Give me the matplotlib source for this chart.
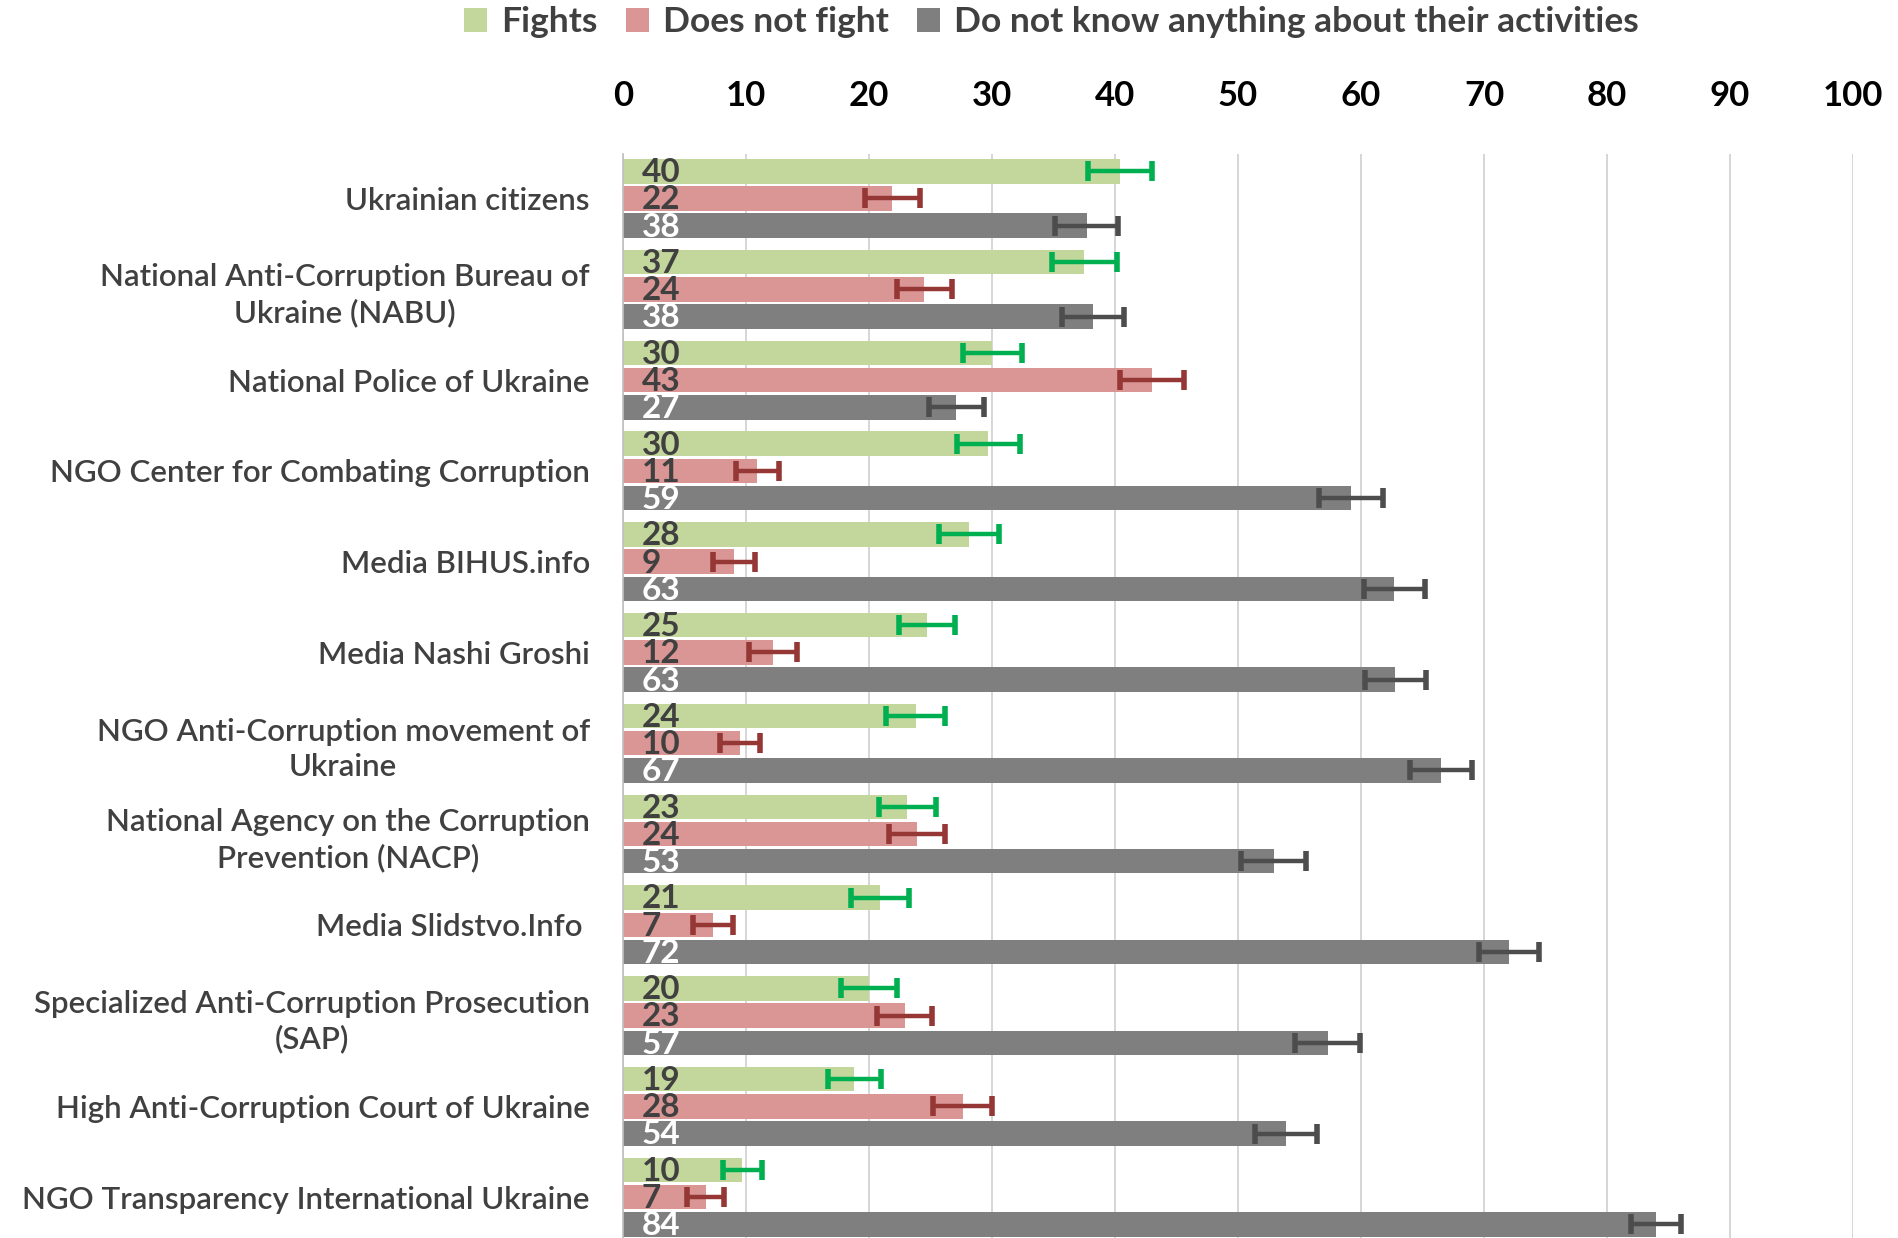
import matplotlib.pyplot as plt
import numpy as np
from matplotlib.patches import Patch

plt.rcParams['font.family'] = ['Lato', 'DejaVu Sans']

categories = [
    "Ukrainian citizens",
    "National Anti-Corruption Bureau of\nUkraine (NABU)",
    "National Police of Ukraine",
    "NGO Center for Combating Corruption",
    "Media BIHUS.info",
    "Media Nashi Groshi",
    "NGO Anti-Corruption movement of\nUkraine",
    "National Agency on the Corruption\nPrevention (NACP)",
    "Media Slidstvo.Info ",
    "Specialized Anti-Corruption Prosecution\n(SAP)",
    "High Anti-Corruption Court of Ukraine",
    "NGO Transparency International Ukraine",
]
series_names = ["Fights", "Does not fight", "Do not know anything about their activities"]

fights = [40.4, 37.5, 30.0, 29.7, 28.1, 24.7, 23.8, 23.1, 20.9, 20.0, 18.8, 9.7]
fights_err = [2.6, 2.65, 2.4, 2.55, 2.45, 2.25, 2.4, 2.3, 2.35, 2.25, 2.15, 1.6]
fights_labels = [40, 37, 30, 30, 28, 25, 24, 23, 21, 20, 19, 10]

not_fight = [21.9, 24.5, 43.0, 10.9, 9.0, 12.2, 9.5, 23.9, 7.3, 22.9, 27.6, 6.7]
not_fight_err = [2.2, 2.25, 2.6, 1.75, 1.7, 1.95, 1.65, 2.3, 1.6, 2.25, 2.4, 1.5]
not_fight_labels = [22, 24, 43, 11, 9, 12, 10, 24, 7, 23, 28, 7]

dont_know = [37.7, 38.2, 27.1, 59.2, 62.7, 62.8, 66.5, 52.9, 72.0, 57.3, 53.9, 84.0]
dont_know_err = [2.55, 2.5, 2.25, 2.6, 2.5, 2.5, 2.5, 2.65, 2.45, 2.65, 2.55, 2.05]
dont_know_labels = [38, 38, 27, 59, 63, 63, 67, 53, 72, 57, 54, 84]

bar_colors = ['#C3D69B', '#D99694', '#7F7F7F']
err_colors = ['#00B050', '#953735', '#4D4D4D']
text_colors = ['#404040', '#404040', 'white']

fig = plt.figure(figsize=(18.98, 12.38), dpi=100)
ax = fig.add_axes([0.3283, 0.0, 0.648, 0.8756])

y = np.arange(len(categories))
offsets = [-0.3, 0.0, 0.3]
bar_h = 0.27

series = [
    (fights, fights_err, fights_labels),
    (not_fight, not_fight_err, not_fight_labels),
    (dont_know, dont_know_err, dont_know_labels),
]

for k, (vals, errs, labels) in enumerate(series):
    yy = y + offsets[k]
    ax.barh(yy, vals, height=bar_h, color=bar_colors[k], zorder=2)
    ax.errorbar(vals, yy, xerr=errs, fmt='none', ecolor=err_colors[k],
                elinewidth=3.2, capsize=7, capthick=4, zorder=3)
    # value labels sit inside the bar, near the left end
    for yi, lab in zip(yy, labels):
        ax.text(1.5, yi + bar_h / 2 - 0.015, str(lab), ha='left', va='baseline',
                fontsize=24, fontweight='bold', color=text_colors[k], zorder=4)

ax.set_xlim(0, 100)
ax.set_ylim(11.45, -0.49)
ax.set_xticks(np.arange(0, 101, 10))
ax.xaxis.tick_top()
ax.tick_params(axis='x', length=0, pad=30, labelsize=25)
for lbl in ax.get_xticklabels():
    lbl.set_fontweight('bold')
    lbl.set_color('black')

ax.set_yticks(y)
ax.set_yticklabels(categories, fontsize=22.5, color='#404040', fontweight='semibold')
ax.tick_params(axis='y', length=0, pad=24)
for lbl in ax.get_yticklabels():
    lbl.set_multialignment('center')
    lbl.set_linespacing(1.3)

ax.xaxis.grid(True, color='#D0D0D0', linewidth=1.2)
ax.set_axisbelow(True)
for side in ['top', 'right', 'bottom']:
    ax.spines[side].set_visible(False)
ax.spines['left'].set_color('#BFBFBF')
ax.spines['left'].set_linewidth(1.2)

handles = [Patch(facecolor=c) for c in bar_colors]
fig.legend(handles, series_names, loc='center', bbox_to_anchor=(0.554, 0.982),
           ncol=3, frameon=False, handlelength=0.65, handleheight=0.65,
           handletextpad=0.4, columnspacing=0.8, labelcolor='#404040',
           prop={'weight': 'bold', 'size': 25.5})

fig.savefig('out.png', dpi=100)
